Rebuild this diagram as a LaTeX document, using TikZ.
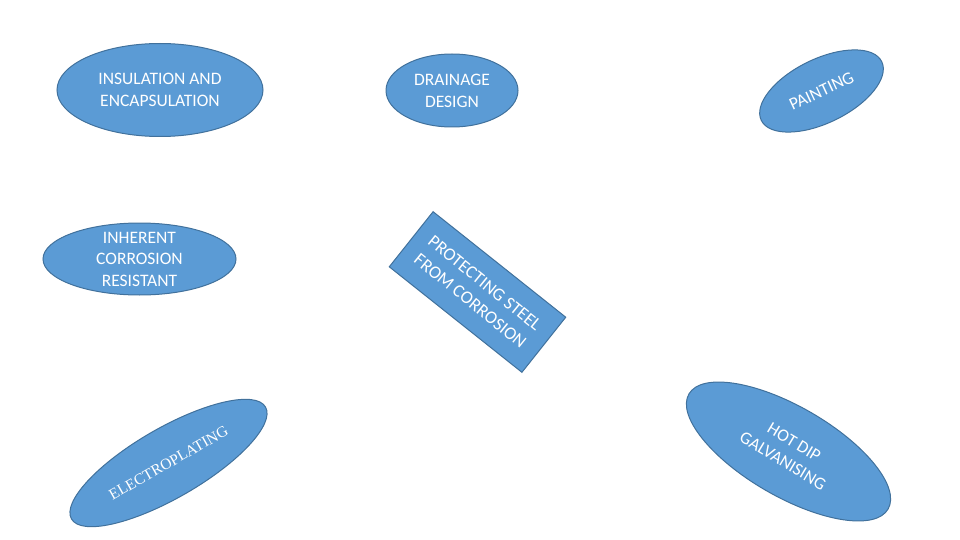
\documentclass[tikz,border=0pt]{standalone}
\usepackage{fontspec}
\setmainfont{Carlito}
\newfontfamily\serifel{Liberation Serif}
\usetikzlibrary{shapes.geometric}
\definecolor{blfill}{HTML}{5B9BD5}
\definecolor{bldraw}{HTML}{41719C}
\tikzset{
  blob/.style={ellipse, draw=bldraw, fill=blfill, line width=1pt, inner sep=0pt},
  plate/.style={rectangle, draw=bldraw, fill=blfill, line width=1pt, inner sep=0pt},
  lbl/.style={text=white, align=center, inner sep=0pt, font=\fontsize{17.5}{22}\selectfont}
}
\begin{document}
\begin{tikzpicture}[x=1pt,y=-1pt]
\useasboundingbox (0,0) rectangle (960,540);
% top row
\node[blob, minimum width=206pt, minimum height=93pt] (ins) at (160,90) {};
\node[lbl] (insT) at (ins.center) {INSULATION AND\\ENCAPSULATION};
\node[blob, minimum width=132pt, minimum height=73pt] (dra) at (452,90.5) {};
\node[lbl] (draT) at (dra.center) {DRAINAGE\\DESIGN};
\node[blob, minimum width=134pt, minimum height=64pt, rotate=26] (pai) at (821.5,91) {};
\node[lbl, rotate=25] (paiT) at (pai.center) {PAINTING};
% middle row
\node[blob, minimum width=193pt, minimum height=72pt] (inh) at (139.5,259) {};
\node[lbl, font=\fontsize{17.5}{21.5}\selectfont] (inhT) at (inh.center) {INHERENT\\CORROSION\\RESISTANT};
\node[plate, minimum width=169.5pt, minimum height=70.4pt, rotate=-38.5] (pro) at (477.5,292) {};
\node[lbl, rotate=-39, font=\fontsize{18}{23}\selectfont] (proT) at (pro.center) {PROTECTING STEEL\\FROM CORROSION};
% bottom row
\node[blob, minimum width=224pt, minimum height=70pt, rotate=30] (ele) at (168.5,463) {};
\node[lbl, rotate=29.6, font=\serifel\fontsize{15.5}{18}\selectfont] (eleT) at (ele.center) {ELECTROPLATING};
\node[blob, minimum width=230pt, minimum height=90pt, rotate=-30] (hot) at (788.5,451.5) {};
\node[lbl, rotate=-31] (hotT) at (hot.center) {HOT DIP\\GALVANISING};
\end{tikzpicture}
\end{document}
